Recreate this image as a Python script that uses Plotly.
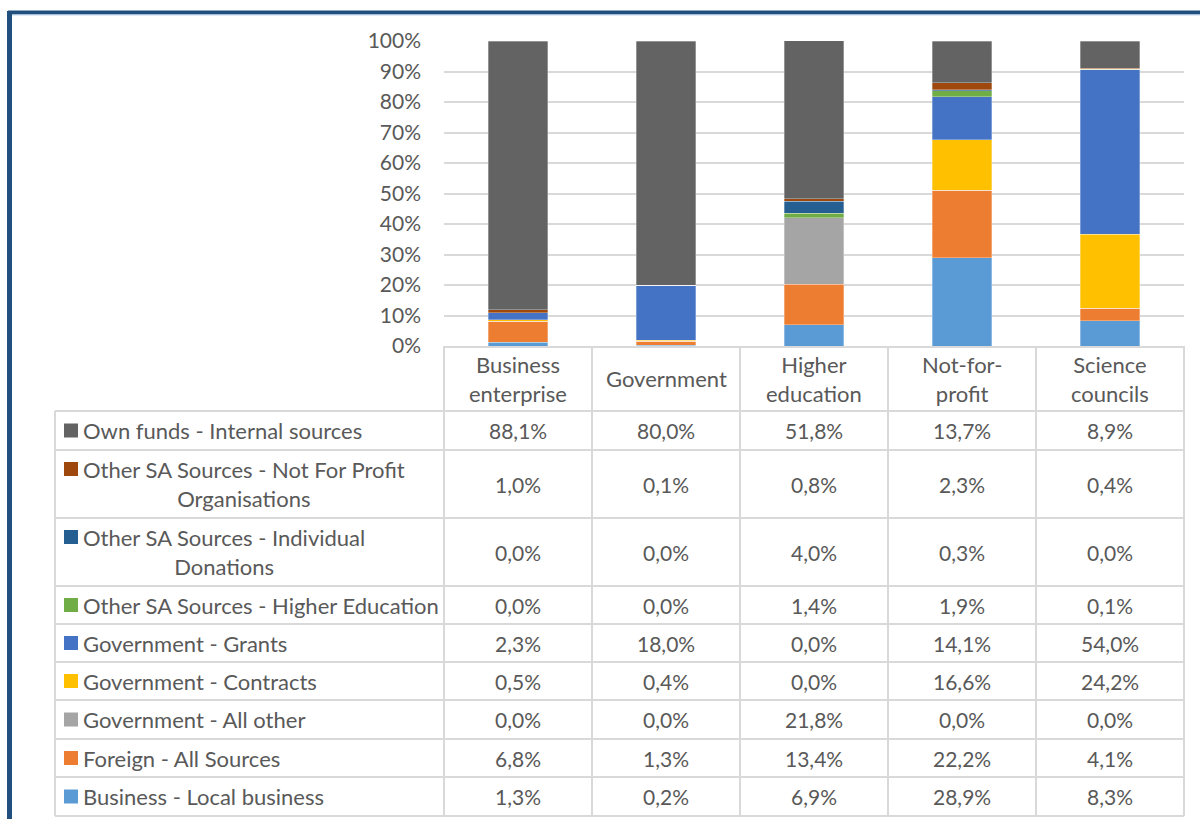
import plotly.graph_objects as go

W, H = 1200, 819

categories = ["Business enterprise", "Government", "Higher education", "Not-for-profit", "Science councils"]
header_labels = ["Business<br>enterprise", "Government", "Higher<br>education", "Not-for-<br>profit", "Science<br>councils"]

# series listed top of table -> bottom of table (top of stack -> bottom of stack)
series_names = [
    "Own funds - Internal sources",
    "Other SA Sources - Not For Profit<br>Organisations",
    "Other SA Sources - Individual<br>Donations",
    "Other SA Sources - Higher Education",
    "Government - Grants",
    "Government - Contracts",
    "Government - All other",
    "Foreign - All Sources",
    "Business - Local business",
]
series_colors = ["#636363", "#9E480E", "#255E91", "#70AD47", "#4472C4",
                 "#FFC000", "#A5A5A5", "#ED7D31", "#5B9BD5"]

own_funds = [88.1, 80.0, 51.8, 13.7, 8.9]
other_npo = [1.0, 0.1, 0.8, 2.3, 0.4]
other_individual = [0.0, 0.0, 4.0, 0.3, 0.0]
other_higher_ed = [0.0, 0.0, 1.4, 1.9, 0.1]
gov_grants = [2.3, 18.0, 0.0, 14.1, 54.0]
gov_contracts = [0.5, 0.4, 0.0, 16.6, 24.2]
gov_all_other = [0.0, 0.0, 21.8, 0.0, 0.0]
foreign = [6.8, 1.3, 13.4, 22.2, 4.1]
local_business = [1.3, 0.2, 6.9, 28.9, 8.3]

series_values = [own_funds, other_npo, other_individual, other_higher_ed, gov_grants,
                 gov_contracts, gov_all_other, foreign, local_business]

y_ticks = [0, 10, 20, 30, 40, 50, 60, 70, 80, 90, 100]

FONT = "Lato"
TXT = "#595959"
GRID = "#D9D9D9"
FS_LABEL = 22
FS_VAL = 21
FS_TICK = 21


def px(x):
    return x / W


def py(y):
    return 1 - y / H


# layout geometry (pixels)
PL, PR = 444, 1184
PT, PB = 41, 346
TL = 55
row_edges = [346, 411, 450, 518, 586, 624, 662, 700, 739, 777, 816]
col_w = (PR - PL) / len(categories)
col_edges = [PL + i * col_w for i in range(len(categories) + 1)]

fig = go.Figure()

# bars, bottom of stack first
for name, color, vals in reversed(list(zip(series_names, series_colors, series_values))):
    fig.add_trace(go.Bar(
        x=categories, y=vals, name=name.replace("<br>", " "),
        marker=dict(color=color, line=dict(color="rgba(255,255,255,0.5)", width=0.6)),
        showlegend=False,
    ))

shapes = []
annotations = []

line_style = dict(color=GRID, width=2)

# horizontal table lines
for i, y in enumerate(row_edges):
    if i == 0:
        continue  # axis line drawn by x axis
    shapes.append(dict(type="line", xref="paper", yref="paper",
                       x0=px(TL), x1=px(PR), y0=py(y), y1=py(y), line=line_style))
# vertical table lines
for x in col_edges:
    shapes.append(dict(type="line", xref="paper", yref="paper",
                       x0=px(x), x1=px(x), y0=py(row_edges[0]), y1=py(row_edges[-1]), line=line_style))
shapes.append(dict(type="line", xref="paper", yref="paper",
                   x0=px(TL), x1=px(TL), y0=py(row_edges[1]), y1=py(row_edges[-1]), line=line_style))

# header labels
for i, lab in enumerate(header_labels):
    cx = (col_edges[i] + col_edges[i + 1]) / 2
    cy = (row_edges[0] + row_edges[1]) / 2
    annotations.append(dict(x=px(cx), y=py(cy), xref="paper", yref="paper", text=lab,
                            showarrow=False, xanchor="center", yanchor="middle", align="center",
                            font=dict(family=FONT, size=FS_LABEL, color=TXT)))

# rows
for r, (name, color, vals) in enumerate(zip(series_names, series_colors, series_values)):
    top, bot = row_edges[r + 1], row_edges[r + 2]
    cy = (top + bot) / 2
    two_line = "<br>" in name
    key_y = top + 19 if two_line else cy
    shapes.append(dict(type="rect", xref="paper", yref="paper",
                       x0=px(64), x1=px(78), y0=py(key_y - 7), y1=py(key_y + 7),
                       fillcolor=color, line=dict(width=0)))
    annotations.append(dict(x=px(81), y=py(cy), xref="paper", yref="paper", text=name,
                            showarrow=False, xanchor="left", yanchor="middle", align="center",
                            font=dict(family=FONT, size=FS_LABEL, color=TXT)))
    for i, v in enumerate(vals):
        cx = (col_edges[i] + col_edges[i + 1]) / 2
        annotations.append(dict(x=px(cx), y=py(cy), xref="paper", yref="paper",
                                text=f"{v:.1f}".replace(".", ",") + "%",
                                showarrow=False, xanchor="center", yanchor="middle",
                                font=dict(family=FONT, size=FS_VAL, color=TXT)))

# outer frame (dark blue)
FRAME = "#21507E"
shapes.append(dict(type="line", xref="paper", yref="paper",
                   x0=px(8), x1=1.0, y0=py(12.5), y1=py(12.5), line=dict(color=FRAME, width=4)))
shapes.append(dict(type="line", xref="paper", yref="paper",
                   x0=px(8), x1=1.0, y0=py(15), y1=py(15), line=dict(color="#BDD7EE", width=1)))
shapes.append(dict(type="line", xref="paper", yref="paper",
                   x0=px(9.5), x1=px(9.5), y0=py(11), y1=0, line=dict(color=FRAME, width=5)))

fig.update_layout(
    width=W, height=H,
    margin=dict(l=0, r=0, t=0, b=0, autoexpand=False),
    paper_bgcolor="white", plot_bgcolor="white",
    barmode="stack", bargap=0.6,
    font=dict(family=FONT, size=FS_VAL, color=TXT),
    xaxis=dict(domain=[px(PL), px(PR)], range=[-0.5, 4.5], showticklabels=False,
               showgrid=False, zeroline=False, showline=True, linecolor=GRID, linewidth=2,
               ticks="", fixedrange=True, automargin=False),
    yaxis=dict(domain=[py(PB), py(PT)], range=[0, 100], tickvals=y_ticks,
               ticktext=[f"{t}%" for t in y_ticks], showgrid=True, gridcolor=GRID, gridwidth=2,
               zeroline=False, showline=False, ticks="", ticklabelstandoff=22, automargin=False,
               tickfont=dict(family=FONT, size=FS_TICK, color=TXT)),
    shapes=shapes, annotations=annotations,
)

fig.write_html("out.html", config={"displayModeBar": False},
               post_script="document.body.style.margin='0';document.body.style.overflow='hidden';")
